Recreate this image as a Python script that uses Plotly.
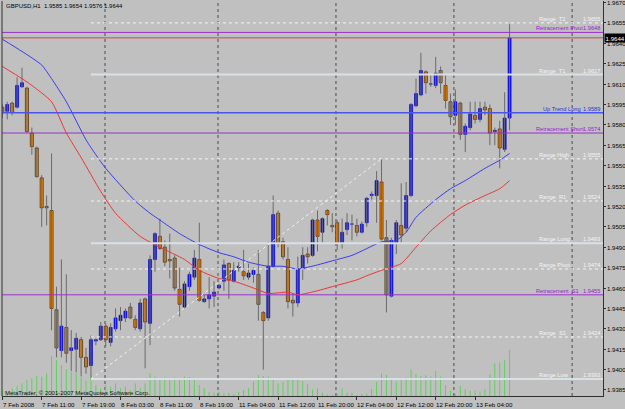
import plotly.graph_objects as go

# ---------------- data ----------------
bars = list(range(104))
opens = [1.9593,1.9590,1.9596,1.9593,1.9608,1.9607,1.9574,1.9563,1.9541,1.9520,
         1.9517,1.9444,1.9414,1.9431,1.9414,1.9415,1.9422,1.9409,1.9403,1.9421,
         1.9422,1.9432,1.9420,1.9430,1.9436,1.9438,1.9446,1.9437,1.9430,1.9452,
         1.9434,1.9481,1.9498,1.9490,1.9481,1.9482,1.9459,1.9446,1.9461,1.9468,
         1.9481,1.9450,1.9452,1.9454,1.9460,1.9465,1.9478,1.9465,1.9475,1.9472,
         1.9468,1.9470,1.9470,1.9442,1.9438,1.9476,1.9515,1.9494,1.9481,1.9451,
         1.9449,1.9474,1.9485,1.9484,1.9510,1.9501,1.9517,1.9506,1.9508,1.9493,
         1.9503,1.9507,1.9506,1.9501,1.9508,1.9528,1.9528,1.9538,1.9497,1.9454,
         1.9493,1.9506,1.9504,1.9528,1.9594,1.9602,1.9619,1.9610,1.9609,1.9620,
         1.9609,1.9597,1.9587,1.9596,1.9573,1.9578,1.9587,1.9584,1.9593,1.9592,
         1.9575,1.9577,1.9562,1.9585]
highs = [1.9595,1.9597,1.9597,1.9615,1.9622,1.9608,1.9578,1.9564,1.9543,1.9528,
         1.9559,1.9461,1.9481,1.9470,1.9429,1.9427,1.9424,1.9416,1.9425,1.9423,
         1.9435,1.9434,1.9434,1.9445,1.9446,1.9445,1.9449,1.9440,1.9452,1.9453,
         1.9484,1.9501,1.9511,1.9495,1.9500,1.9484,1.9475,1.9465,1.9472,1.9488,
         1.9508,1.9455,1.9468,1.9465,1.9463,1.9481,1.9479,1.9479,1.9479,1.9488,
         1.9478,1.9475,1.9488,1.9443,1.9494,1.9528,1.9517,1.9497,1.9490,1.9456,
         1.9483,1.9490,1.9490,1.9511,1.9517,1.9512,1.9518,1.9515,1.9510,1.9511,
         1.9515,1.9514,1.9511,1.9509,1.9527,1.9531,1.9546,1.9555,1.9510,1.9497,
         1.9510,1.9537,1.9538,1.9596,1.9614,1.9633,1.9620,1.9617,1.9630,1.9623,
         1.9617,1.9603,1.9606,1.9597,1.9581,1.9597,1.9597,1.9597,1.9597,1.9595,
         1.9578,1.9583,1.9604,1.9654]
lows = [1.9585,1.9584,1.9587,1.9592,1.9607,1.9574,1.9558,1.9541,1.9505,1.9506,
        1.9429,1.9409,1.9409,1.9405,1.9399,1.9398,1.9395,1.9397,1.9393,1.9418,
        1.9421,1.9417,1.9417,1.9428,1.9429,1.9435,1.9437,1.9429,1.9428,1.9401,
        1.9418,1.9472,1.9488,1.9476,1.9467,1.9458,1.9439,1.9445,1.9458,1.9466,
        1.9450,1.9449,1.9445,1.9446,1.9459,1.9458,1.9452,1.9464,1.9472,1.9466,
        1.9466,1.9464,1.9436,1.9400,1.9436,1.9475,1.9490,1.9481,1.9445,1.9439,
        1.9446,1.9466,1.9478,1.9483,1.9487,1.9493,1.9506,1.9501,1.9488,1.9489,
        1.9499,1.9495,1.9498,1.9500,1.9505,1.9525,1.9508,1.9495,1.9442,1.9453,
        1.9485,1.9493,1.9501,1.9527,1.9593,1.9601,1.9603,1.9608,1.9607,1.9603,
        1.9592,1.9580,1.9580,1.9569,1.9560,1.9576,1.9581,1.9582,1.9587,1.9565,
        1.9565,1.9548,1.9560,1.9576]
closes = [1.9589,1.9595,1.9589,1.9609,1.9611,1.9575,1.9564,1.9542,1.9519,1.9519,
          1.9445,1.9416,1.9432,1.9412,1.9416,1.9423,1.9409,1.9402,1.9422,1.9422,
          1.9432,1.9422,1.9431,1.9438,1.9440,1.9443,1.9438,1.9431,1.9449,1.9435,
          1.9481,1.9500,1.9489,1.9479,1.9480,1.9460,1.9448,1.9463,1.9470,1.9482,
          1.9451,1.9452,1.9455,1.9457,1.9462,1.9477,1.9466,1.9473,1.9476,1.9469,
          1.9471,1.9473,1.9448,1.9436,1.9476,1.9514,1.9493,1.9483,1.9450,1.9449,
          1.9474,1.9484,1.9483,1.9510,1.9498,1.9511,1.9514,1.9505,1.9493,1.9501,
          1.9508,1.9507,1.9501,1.9507,1.9526,1.9529,1.9539,1.9496,1.9455,1.9495,
          1.9508,1.9499,1.9528,1.9595,1.9603,1.9620,1.9611,1.9610,1.9618,1.9611,
          1.9598,1.9586,1.9597,1.9573,1.9579,1.9588,1.9584,1.9592,1.9591,1.9574,
          1.9576,1.9563,1.9585,1.9644]
volumes = [60,20,77,100,127,160,177,200,193,227,
           400,360,310,267,243,227,187,153,193,110,
           77,110,93,127,77,93,60,127,77,127,
           227,193,177,187,177,187,177,193,187,160,
           110,77,43,33,43,27,33,20,43,60,
           77,143,210,200,193,160,127,143,180,160,
           160,150,120,65,77,33,15,10,27,77,
           33,33,10,20,27,70,143,227,210,160,
           143,177,187,267,220,200,207,193,250,193,
           110,53,20,100,67,53,53,43,70,217,
           327,333,360,460]

ma_fast_bar = [0,4,8,10,13,17,19,21,27,30,32,36,40,44,47,50,54,57,60,64,67,71,74,77,80,82,84,88,91,94,98,101,103]
ma_fast_val = [1.9643,1.9634,1.9624,1.9614,1.9597,1.9569,1.9558,1.9548,1.9524,1.9515,1.9510,1.9500,1.9492,
               1.9486,1.9483,1.9479,1.9476,1.9476,1.9474,1.9477,1.9480,1.9484,1.9489,1.9494,1.9495,1.9501,
               1.9512,1.9525,1.9533,1.9539,1.9548,1.9554,1.9559]
ma_slow_bar = [0,4,6,10,13,16,20,23,28,32,37,40,44,47,51,54,58,60,64,67,72,74,77,81,84,87,91,94,98,101,103]
ma_slow_val = [1.9623,1.9614,1.9609,1.9597,1.9574,1.9556,1.9531,1.9515,1.9498,1.9490,1.9481,1.9473,1.9467,
               1.9465,1.9460,1.9456,1.9457,1.9455,1.9458,1.9461,1.9466,1.9469,1.9473,1.9478,1.9490,1.9502,
               1.9514,1.9521,1.9528,1.9533,1.9539]

range_names = ["Range\u00a0 T2", "Range\u00a0 T1", "Range High", "Range\u00a0 R1",
               "Range Long", "Range Pivot", "Range\u00a0 S1", "Range Low"]
range_values = [1.9655, 1.9617, 1.9555, 1.9524, 1.9493, 1.9474, 1.9424, 1.9393]
retr_names = ["Retracement Pivot", "Retracement Short", "Retracement\u00a0 S1"]
retr_values = [1.9648, 1.9574, 1.9455]
trend_names = ["Up Trend Long"]
trend_values = [1.9589]
bid_price = 1.9644
range_start_bar = 18          # bar of the range low (anchor of the range tool)
range_end_bar = 77            # bar of the range high
time_label_bars = [0, 8, 16, 24, 32, 40, 48, 56, 64, 72, 80, 88, 96]
time_labels = ["7 Feb 2008", "7 Feb 11:00", "7 Feb 19:00", "8 Feb 03:00", "8 Feb 11:00",
               "8 Feb 19:00", "11 Feb 04:00", "11 Feb 12:00", "11 Feb 20:00", "12 Feb 04:00",
               "12 Feb 12:00", "12 Feb 20:00", "13 Feb 04:00"]
price_ticks = ["1.9385", "1.9400", "1.9415", "1.9430", "1.9445", "1.9460", "1.9475", "1.9490",
               "1.9505", "1.9520", "1.9535", "1.9550", "1.9565", "1.9580", "1.9595", "1.9610",
               "1.9625", "1.9640", "1.9655", "1.9670"]
grid_bars = [20.85, 43.8, 67.75, 91.7, 115.7]
header = "GBPUSD,H1\u00a0 1.9585 1.9654 1.9576 1.9644"
copyright_txt = "MetaTrader, \u00a9 2001-2007 MetaQuotes Software Corp."

# ---------------- styles ----------------
BG = "#c0c0c0"
FONT = "Liberation Sans"
X_RANGE = [-0.061, 121.97]
Y_RANGE = [1.938058, 1.967110]
solid_range = {"Range\u00a0 T1", "Range Long", "Range Low"}

fig = go.Figure()

# volumes as thin 1px lines
vx, vy = [], []
for i, v in zip(bars, volumes):
    vx += [i, i, None]
    vy += [0, v, None]
fig.add_trace(go.Scatter(x=vx, y=vy, yaxis="y2", mode="lines",
                         line=dict(color="#5fd05f", width=1), hoverinfo="skip"))

# wicks
wx, wy = [], []
for i, h, l in zip(bars, highs, lows):
    wx += [i, i, None]
    wy += [l, h, None]
fig.add_trace(go.Scatter(x=wx, y=wy, mode="lines", line=dict(color="#6a6a6a", width=1),
                         hoverinfo="skip"))

# bodies
MIN_BODY = 0.000012
for bull, fill, edge, ew in [(True, "#1414ff", "#0000aa", 0.6), (False, "#ff8c00", "#4a3418", 0.8)]:
    xs, base, hgt = [], [], []
    for i, o, c in zip(bars, opens, closes):
        if (c >= o) == bull:
            xs.append(i)
            base.append(min(o, c))
            hgt.append(max(abs(c - o), MIN_BODY))
    fig.add_trace(go.Bar(x=xs, y=hgt, base=base, width=0.62,
                         marker=dict(color=fill, line=dict(color=edge, width=ew)),
                         hoverinfo="skip"))

# moving averages
fig.add_trace(go.Scatter(x=ma_fast_bar, y=ma_fast_val, mode="lines",
                         line=dict(color="#3a3af0", width=1, shape="spline", smoothing=0.6)))
fig.add_trace(go.Scatter(x=ma_slow_bar, y=ma_slow_val, mode="lines",
                         line=dict(color="#ee3535", width=1, shape="spline", smoothing=0.6)))

shapes = []
for gx in grid_bars:
    shapes.append(dict(type="line", xref="x", yref="paper", x0=gx, x1=gx, y0=0, y1=1,
                       layer="below", line=dict(color="#4a4a4a", width=1, dash="dot")))

annotations = []
# range levels
for nm, v in zip(range_names, range_values):
    solid = nm in solid_range
    shapes.append(dict(type="line", xref="x", yref="y", x0=range_start_bar, x1=X_RANGE[1],
                       y0=v, y1=v, layer="above",
                       line=dict(color="#d8e2e6" if solid else "#f4f8f8",
                                 width=2 if solid else 1, dash="solid" if solid else "dot")))
    annotations.append(dict(x=108.6, y=v, xref="x", yref="y", text=nm, showarrow=False,
                            xanchor="left", yanchor="middle", yshift=4,
                            font=dict(family=FONT, size=5.7, color="#f4f4f4")))
    annotations.append(dict(x=1, y=v, xref="paper", yref="y", text=f"{v:.4f}", showarrow=False,
                            xanchor="right", yanchor="middle", yshift=4, xshift=-1,
                            font=dict(family=FONT, size=5.7, color="#f4f4f4")))
# retracement levels
for nm, v in zip(retr_names, retr_values):
    shapes.append(dict(type="line", xref="paper", yref="y", x0=0, x1=1, y0=v, y1=v,
                       layer="above", line=dict(color="#9a30cc", width=1)))
    annotations.append(dict(x=107.9, y=v, xref="x", yref="y", text=nm, showarrow=False,
                            xanchor="left", yanchor="middle", yshift=4,
                            font=dict(family=FONT, size=5.7, color="#9a20d0")))
    annotations.append(dict(x=1, y=v, xref="paper", yref="y", text=f"{v:.4f}", showarrow=False,
                            xanchor="right", yanchor="middle", yshift=4, xshift=-1,
                            font=dict(family=FONT, size=5.7, color="#9a20d0")))
# trend level
for nm, v in zip(trend_names, trend_values):
    shapes.append(dict(type="line", xref="paper", yref="y", x0=0, x1=1, y0=v, y1=v,
                       layer="above", line=dict(color="#4a55f0", width=1.5)))
    annotations.append(dict(x=109.4, y=v, xref="x", yref="y", text=nm, showarrow=False,
                            xanchor="left", yanchor="middle", yshift=4,
                            font=dict(family=FONT, size=5.7, color="#2a30d8")))
    annotations.append(dict(x=1, y=v, xref="paper", yref="y", text=f"{v:.4f}", showarrow=False,
                            xanchor="right", yanchor="middle", yshift=4, xshift=-1,
                            font=dict(family=FONT, size=5.7, color="#2a30d8")))
# bid line
shapes.append(dict(type="line", xref="paper", yref="y", x0=0, x1=1, y0=bid_price, y1=bid_price,
                   layer="above", line=dict(color="#c44a4a", width=1)))
# range trend line (low bar -> high bar)
shapes.append(dict(type="line", xref="x", yref="y",
                   x0=range_start_bar, y0=lows[range_start_bar],
                   x1=range_end_bar, y1=highs[range_end_bar],
                   layer="above", line=dict(color="#eef2f4", width=1, dash="dot")))
# left frame
shapes.append(dict(type="line", xref="paper", yref="paper", x0=0, x1=0, y0=0, y1=1,
                   layer="above", line=dict(color="#303030", width=1)))

# price axis labels (right side)
for t in price_ticks:
    annotations.append(dict(x=1, y=float(t), xref="paper", yref="y", text=t, showarrow=False,
                            xanchor="left", yanchor="middle", xshift=1.5,
                            font=dict(family=FONT, size=6.1, color="#000000")))
# time labels
for b, t in zip(time_label_bars, time_labels):
    annotations.append(dict(x=b, y=0, xref="x", yref="paper", text=t, showarrow=False,
                            xanchor="left", yanchor="middle", yshift=-8.5, xshift=-1.5,
                            font=dict(family=FONT, size=6.2, color="#000000")))
# current price box
annotations.append(dict(x=1, y=bid_price, xref="paper", yref="y", text=f"{bid_price:.4f}",
                        showarrow=False, xanchor="left", yanchor="middle", xshift=0.5,
                        bgcolor="#000000", borderpad=0.6,
                        font=dict(family=FONT, size=6.1, color="#ffffff")))
annotations.append(dict(x=0, y=1, xref="paper", yref="paper", text=header, showarrow=False,
                        xanchor="left", yanchor="middle", xshift=1.5, yshift=-5.2,
                        font=dict(family=FONT, size=6, color="#000000")))
annotations.append(dict(x=0, y=0, xref="paper", yref="paper", text=copyright_txt, showarrow=False,
                        xanchor="left", yanchor="middle", xshift=0.5, yshift=3,
                        font=dict(family=FONT, size=6, color="#101010")))

fig.update_layout(
    width=625, height=409,
    margin=dict(l=2, r=22, t=1, b=13, autoexpand=False),
    paper_bgcolor=BG, plot_bgcolor=BG,
    showlegend=False, barmode="overlay", hovermode=False,
    shapes=shapes, annotations=annotations,
    xaxis=dict(range=X_RANGE, showgrid=False, zeroline=False, showline=True,
               linecolor="#303030", linewidth=1, ticks="outside", ticklen=3,
               tickcolor="#303030", tickvals=time_label_bars, showticklabels=False,
               fixedrange=True),
    yaxis=dict(range=Y_RANGE, side="right", showgrid=False, zeroline=False, showline=True,
               linecolor="#303030", linewidth=1, ticks="outside", ticklen=2,
               tickcolor="#303030", tickvals=[float(t) for t in price_ticks],
               showticklabels=False, fixedrange=True),
    yaxis2=dict(range=[0, 3950], overlaying="y", visible=False, fixedrange=True),
)

fig.write_html("out.html")
